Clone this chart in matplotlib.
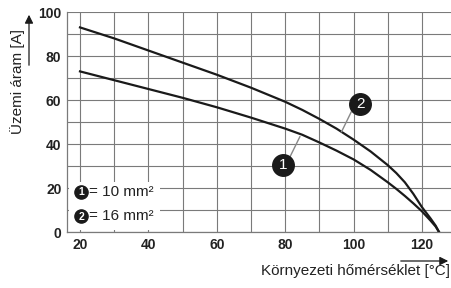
import numpy as np
import matplotlib
matplotlib.use("Agg")
import matplotlib.pyplot as plt
from matplotlib.patches import Rectangle

plt.rcParams['font.family'] = ['Liberation Sans', 'DejaVu Sans']

# ambient temperature [°C]
temp = [20, 30, 40, 50, 60, 70, 80, 85, 90, 95, 100, 105, 110, 112.5, 115, 117.5, 120, 122.5, 124, 125]
# 1 = 10 mm², 2 = 16 mm²
current_10 = [73, 69, 65, 61, 56.7, 52, 47, 44.2, 40.7, 37, 33, 28.2, 22.6, 19.6, 16.4, 13.0,
              9.4, 5.2, 2.5, 0]
current_16 = [93, 88, 82.5, 77, 71.5, 65.6, 59.2, 55.5, 51.4, 47, 42, 36.6, 30.4, 26.8, 22.6, 17.3,
              11.3, 6.2, 2.9, 0]

x_ticks = [20, 40, 60, 80, 100, 120]
y_ticks = [0, 20, 40, 60, 80, 100]
legend_labels = ["= 10 mm²", "= 16 mm²"]

fig = plt.figure(figsize=(4.51, 2.88), dpi=100)
ax = fig.add_axes([67 / 451, 56 / 288, 1 - 67 / 451, 220 / 288])

grid_col = "#7a7a7a"
ax.set_xlim(16.2, 128.5)
ax.set_ylim(0, 100)
ax.set_xticks(x_ticks)
ax.set_yticks(y_ticks)
ax.set_xticks(np.arange(20, 130, 10), minor=True)
ax.set_yticks(np.arange(0, 110, 10), minor=True)
ax.grid(True, which="both", color=grid_col, lw=0.8)
ax.set_axisbelow(True)
ax.tick_params(which="both", length=0)
ax.tick_params(axis="x", pad=4)
ax.tick_params(axis="y", pad=4)
for lab in ax.get_xticklabels() + ax.get_yticklabels():
    lab.set_fontweight("bold")
    lab.set_fontsize(10)
    lab.set_color("#222222")
for s in ["top", "right"]:
    ax.spines[s].set_visible(False)
for s in ["left", "bottom"]:
    ax.spines[s].set_color(grid_col)
    ax.spines[s].set_linewidth(0.9)

ax.plot(temp, current_10, color="#1a1a1a", lw=1.6, zorder=3, solid_joinstyle="round")
ax.plot(temp, current_16, color="#1a1a1a", lw=1.6, zorder=3, solid_joinstyle="round")

# leader lines and numbered circles
ax.plot([84.3, 81.2], [43.3, 33.5], color="#888888", lw=1, zorder=3)
ax.plot([96.5, 99.3], [45.6, 54.5], color="#888888", lw=1, zorder=3)
for tx, ty, n in [(79.5, 30.5, "1"), (102, 58.2, "2")]:
    ax.plot(tx, ty, "o", ms=15.5, color="#1a1a1a", zorder=4)
    ax.text(tx, ty, n, color="white", fontsize=11, ha="center", va="center", zorder=5)

# legend box
ax.add_patch(Rectangle((16.8, 1), 26.6, 21.7, facecolor="white", edgecolor="none", zorder=2))
for i, (ly, lab) in enumerate(zip([18.3, 7.3], legend_labels)):
    ax.plot(20.3, ly, "o", ms=9.5, color="#1a1a1a", zorder=4)
    ax.text(20.3, ly - 0.3, str(i + 1), color="white", fontsize=7.5, fontweight="bold",
            ha="center", va="center", zorder=5)
    ax.text(22.6, ly, lab, fontsize=11, ha="left", va="center", color="#222222", zorder=5)

# axis labels with arrows
fig.text(18 / 451, 1 - 82 / 288, "Üzemi áram [A]", rotation=90, fontsize=11,
         ha="center", va="center", color="#222222")
fig.text(450 / 451, 1 - 271.5 / 288, "Környezeti hőmérséklet [°C]", fontsize=11,
         ha="right", va="center", color="#222222")
fig.add_artist(matplotlib.patches.FancyArrowPatch(
    (29 / 451, 1 - 68 / 288), (29 / 451, 1 - 12 / 288), transform=fig.transFigure,
    arrowstyle="-|>,head_length=5,head_width=2.5", color="#1a1a1a", lw=0.9))
fig.add_artist(matplotlib.patches.FancyArrowPatch(
    (398 / 451, 1 - 261 / 288), (451 / 451, 1 - 261 / 288), transform=fig.transFigure,
    arrowstyle="-|>,head_length=5,head_width=2.5", color="#1a1a1a", lw=0.9))

fig.savefig("out.png", dpi=100)
